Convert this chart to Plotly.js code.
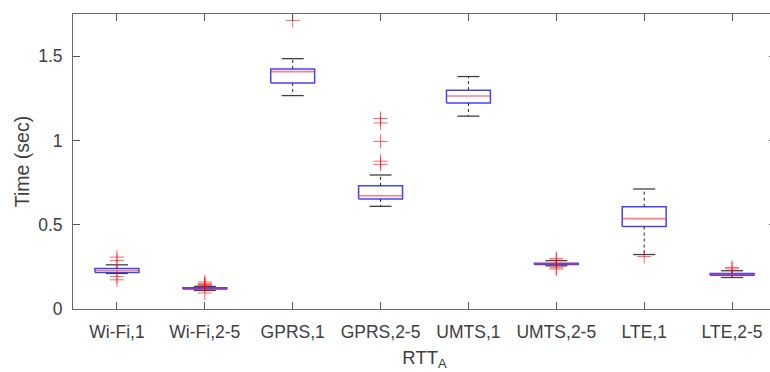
<!DOCTYPE html>
<html><head><meta charset="utf-8">
<script src="https://cdn.plot.ly/plotly-3.0.1.min.js"></script>
<style>html,body{margin:0;padding:0;overflow:hidden;background:#fff}</style>
</head><body><div id="chart"></div>
<script>
const categories = ['Wi-Fi,1','Wi-Fi,2-5','GPRS,1','GPRS,2-5','UMTS,1','UMTS,2-5','LTE,1','LTE,2-5'];
const lowerWhisker = [0.211, 0.110, 1.266, 0.609, 1.144, 0.256, 0.323, 0.187];
const q1           = [0.217, 0.118, 1.341, 0.653, 1.222, 0.264, 0.489, 0.200];
const median       = [0.228, 0.122, 1.408, 0.672, 1.264, 0.268, 0.536, 0.205];
const q3           = [0.240, 0.126, 1.424, 0.731, 1.298, 0.272, 0.607, 0.210];
const upperWhisker = [0.262, 0.134, 1.485, 0.795, 1.379, 0.287, 0.712, 0.227];
const outliers = [
  [0.308, 0.288, 0.193, 0.173],
  [0.160, 0.150, 0.145, 0.140, 0.095],
  [1.712],
  [1.130, 1.104, 0.994, 0.877, 0.858],
  [],
  [0.300, 0.290, 0.245, 0.237],
  [0.311],
  [0.246, 0.238]
];
const yTickVals = [0, 0.5, 1, 1.5];
const yTickText = ['0', '0.5', '1', '1.5'];

const BW = 0.25, CW = 0.125;
const traces = [];
const whiskX = [], whiskY = [], capX = [], capY = [], boxX = [], boxY = [], medX = [], medY = [], outX = [], outY = [];
categories.forEach((c, i) => {
  const x = i + 1;
  whiskX.push(x, x, null, x, x, null);
  whiskY.push(q3[i], upperWhisker[i], null, q1[i], lowerWhisker[i], null);
  capX.push(x - CW, x + CW, null, x - CW, x + CW, null);
  capY.push(upperWhisker[i], upperWhisker[i], null, lowerWhisker[i], lowerWhisker[i], null);
  boxX.push(x - BW, x + BW, x + BW, x - BW, x - BW, null);
  boxY.push(q1[i], q1[i], q3[i], q3[i], q1[i], null);
  medX.push(x - BW, x + BW, null);
  medY.push(median[i], median[i], null);
  outliers[i].forEach(v => { outX.push(x); outY.push(v); });
});
traces.push({x: whiskX, y: whiskY, mode: 'lines', line: {color: '#222', width: 1, dash: '3px,3px'}, hoverinfo: 'skip'});
traces.push({x: capX, y: capY, mode: 'lines', line: {color: 'rgba(30,30,30,0.85)', width: 1.3}, hoverinfo: 'skip'});
traces.push({x: boxX, y: boxY, mode: 'lines', line: {color: 'rgba(20,20,255,0.8)', width: 1.5}, hoverinfo: 'skip'});
traces.push({x: medX, y: medY, mode: 'lines', line: {color: 'rgba(255,40,40,0.6)', width: 1.6}, hoverinfo: 'skip'});
traces.push({x: outX, y: outY, mode: 'markers', marker: {symbol: 'cross-thin-open', size: 10, color: 'rgba(255,0,0,0.6)', line: {color: 'rgba(255,0,0,0.6)', width: 1}}, hoverinfo: 'skip'});

const layout = {
  width: 790, height: 372,
  margin: {l: 73, r: 14, t: 14, b: 63},
  paper_bgcolor: '#fff', plot_bgcolor: '#fff',
  showlegend: false,
  font: {family: 'Liberation Sans, Arial, sans-serif', size: 17.5, color: '#404040'},
  xaxis: {
    range: [0.5, 8.5], tickvals: categories.map((c, i) => i + 1), ticktext: categories,
    ticks: 'inside', ticklen: 7, tickcolor: '#555', tickwidth: 1,
    showline: true, linecolor: '#6a6a6a', linewidth: 1, mirror: 'allticks',
    showgrid: false, zeroline: false, ticklabelstandoff: 7,
    tickfont: {size: 17.5, color: '#404040'},
    title: {text: 'RTT<sub>A</sub>', font: {size: 18.5, color: '#404040'}, standoff: 10}
  },
  yaxis: {
    range: [0, 1.75], tickvals: yTickVals, ticktext: yTickText,
    ticks: 'inside', ticklen: 7, tickcolor: '#555', tickwidth: 1,
    showline: true, linecolor: '#6a6a6a', linewidth: 1, mirror: 'allticks',
    showgrid: false, zeroline: false, ticklabelstandoff: 6,
    tickfont: {size: 17.5, color: '#404040'},
    title: {text: 'Time (sec)', font: {size: 19.5, color: '#404040'}, standoff: 3}
  }
};
Plotly.newPlot('chart', traces, layout, {staticPlot: true, displayModeBar: false});
</script></body></html>
